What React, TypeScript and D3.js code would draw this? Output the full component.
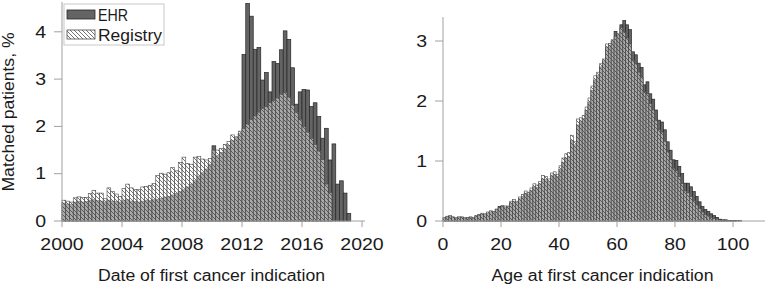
import React from "react";
import * as d3 from "d3";

// ---------- Data ----------
// Left panel: quarterly bins starting 2000.00
const yearStart = 2000;
const quarterWidth = 0.25;
const ehrByDate = [
  0.38, 0.36, 0.35, 0.40,
  0.42, 0.40, 0.41, 0.44,
  0.45, 0.43, 0.42, 0.40,
  0.44, 0.42, 0.41, 0.40,
  0.43, 0.45, 0.42, 0.41,
  0.40, 0.42, 0.44, 0.43,
  0.45, 0.46, 0.48, 0.50,
  0.52, 0.55, 0.58, 0.62,
  0.66, 0.72, 0.78, 0.85,
  0.95, 1.02, 1.10, 1.20,
  1.59, 1.38, 1.45, 1.52,
  1.60, 1.70, 1.76, 1.85,
  3.52, 4.60, 4.33, 3.63,
  3.67, 2.98, 3.14, 2.73,
  3.37, 3.33, 3.62, 4.02,
  3.84, 3.24, 2.47, 2.73,
  2.78, 2.77, 2.42, 2.50,
  2.21, 1.75, 1.96, 1.29,
  1.63, 0.78, 0.85, 0.59,
  0.16,
];
const registryByDate = [
  0.44, 0.42, 0.40, 0.49,
  0.51, 0.50, 0.50, 0.58,
  0.65, 0.59, 0.59, 0.47,
  0.70, 0.62, 0.57, 0.52,
  0.69, 0.78, 0.70, 0.67,
  0.66, 0.72, 0.73, 0.75,
  0.79, 0.96, 1.01, 0.99,
  1.02, 1.13, 1.06, 1.24,
  1.35, 1.22, 1.20, 1.35,
  1.36, 1.31, 1.29, 1.32,
  1.50, 1.50, 1.53, 1.62,
  1.68, 1.82, 1.78, 1.90,
  1.96, 2.05, 2.15, 2.22,
  2.30, 2.38, 2.42, 2.50,
  2.55, 2.60, 2.68, 2.72,
  2.62, 2.45, 2.30, 2.15,
  2.00, 1.88, 1.75, 1.62,
  1.48, 1.30, 0.78, 0.60,
];
const dateTicks = [2000, 2004, 2008, 2012, 2016, 2020];
const dateYTicks = [0, 1, 2, 3, 4];

// Right panel: 1-year age bins starting at 0
const ageStart = 0;
const ageWidth = 1;
const ehrByAge = [
  0.05, 0.07, 0.08, 0.06, 0.05, 0.06, 0.06, 0.05, 0.05, 0.06,
  0.05, 0.08, 0.10, 0.11, 0.11, 0.13, 0.15, 0.15, 0.19, 0.24,
  0.24, 0.23, 0.24, 0.30, 0.33, 0.31, 0.37, 0.41, 0.46, 0.45,
  0.51, 0.57, 0.56, 0.62, 0.70, 0.69, 0.66, 0.75, 0.77, 0.74,
  0.86, 0.98, 1.05, 1.08, 1.34, 1.27, 1.60, 1.66, 1.71, 1.84,
  1.98, 2.18, 2.35, 2.43, 2.57, 2.67, 2.90, 2.93, 3.00, 3.16,
  3.10, 3.27, 3.34, 3.27, 3.19, 2.82, 2.77, 2.63, 2.56, 2.27,
  2.32, 2.12, 2.03, 1.85, 1.68, 1.65, 1.52, 1.32, 1.18, 1.02,
  1.01, 0.91, 0.79, 0.63, 0.63, 0.57, 0.49, 0.41, 0.32, 0.24,
  0.19, 0.16, 0.12, 0.09, 0.06, 0.03, 0.02, 0.02, 0.01, 0.01,
  0.01, 0.005, 0.005,
];
const registryByAge = [
  0.06, 0.08, 0.09, 0.07, 0.05, 0.07, 0.07, 0.05, 0.06, 0.07,
  0.05, 0.09, 0.11, 0.13, 0.12, 0.15, 0.17, 0.16, 0.20, 0.22,
  0.26, 0.25, 0.25, 0.33, 0.36, 0.33, 0.40, 0.44, 0.50, 0.48,
  0.55, 0.62, 0.60, 0.66, 0.76, 0.74, 0.70, 0.80, 0.82, 0.78,
  0.92, 1.05, 1.12, 1.14, 1.43, 1.32, 1.70, 1.72, 1.76, 1.90,
  2.05, 2.25, 2.42, 2.48, 2.62, 2.70, 2.95, 2.96, 3.02, 3.08,
  3.12, 3.22, 3.15, 3.05, 2.95, 2.68, 2.62, 2.48, 2.40, 2.15,
  2.12, 1.96, 1.85, 1.68, 1.52, 1.48, 1.33, 1.15, 1.02, 0.88,
  0.84, 0.74, 0.62, 0.50, 0.47, 0.41, 0.34, 0.27, 0.21, 0.15,
  0.11, 0.09, 0.06, 0.04, 0.03, 0.015, 0.01, 0.008, 0.005, 0.004,
  0.003,
];
const ageTicks = [0, 20, 40, 60, 80, 100];
const ageYTicks = [0, 1, 2, 3];

const legendLabels = ["EHR", "Registry"];
const yLabel = "Matched patients, %";
const leftXLabel = "Date of first cancer indication";
const rightXLabel = "Age at first cancer indication";

// ---------- Styles ----------
const FONT = "'Liberation Sans', Arial, sans-serif";
const AXIS = "#a0a0a0";
const TEXT = "#1a1a1a";
const EHR_FILL = "#646464";
const EHR_STROKE = "#262626";
const REG_STROKE = "#4a4a4a";
const SX = 1.22; // horizontal stretch of the original figure's text

type PanelProps = {
  ehr: number[];
  reg: number[];
  start: number;
  bw: number;
  xDomain: [number, number];
  xRange: [number, number];
  axisEnd: number;
  yMax: number;
  yTop: number;
  xTicks: number[];
  yTicks: number[];
  xLabel: string;
  labelX: number;
  labelLen: number;
};

function Panel(p: PanelProps) {
  const y0 = 221;
  const x = d3.scaleLinear().domain(p.xDomain).range(p.xRange);
  const y = d3.scaleLinear().domain([0, p.yMax]).range([y0, p.yTop]);
  const bars = (vals: number[], fill: string, stroke: string, sw: number) =>
    vals.map((v, i) => {
      const s = p.start + i * p.bw;
      const x1 = x(s);
      const x2 = x(s + p.bw);
      return (
        <rect
          key={i}
          x={x1}
          y={y(v)}
          width={x2 - x1}
          height={y0 - y(v)}
          fill={fill}
          stroke={stroke}
          strokeWidth={sw}
        />
      );
    });
  const ax0 = p.xRange[0];
  return (
    <g>
      {bars(p.ehr, EHR_FILL, EHR_STROKE, 0.7)}
      {bars(p.reg, "url(#hatch)", REG_STROKE, 0.6)}
      {/* y axis */}
      <line x1={ax0} x2={ax0} y1={y(y.domain()[1])} y2={y0} stroke={AXIS} strokeWidth={1} />
      {p.yTicks.map((t) => (
        <g key={t}>
          <line x1={ax0 - 8} x2={ax0} y1={y(t)} y2={y(t)} stroke={AXIS} strokeWidth={1} />
          <text
            transform={`translate(${ax0 - 16},${y(t)}) scale(${SX},1)`}
            dy="0.36em"
            textAnchor="end"
            fontSize={16}
            fill={TEXT}
            fontFamily={FONT}
          >
            {t}
          </text>
        </g>
      ))}
      {/* x axis */}
      <line x1={ax0} x2={p.axisEnd} y1={y0} y2={y0} stroke={AXIS} strokeWidth={1} />
      {p.xTicks.map((t) => (
        <g key={t}>
          <line x1={x(t)} x2={x(t)} y1={y0} y2={y0 + 6} stroke={AXIS} strokeWidth={1} />
          <text
            transform={`translate(${x(t)},250) scale(${SX},1)`}
            textAnchor="middle"
            fontSize={16}
            fill={TEXT}
            fontFamily={FONT}
          >
            {t}
          </text>
        </g>
      ))}
      <text
        x={p.labelX - p.labelLen / 2}
        y={281}
        textLength={p.labelLen}
        lengthAdjust="spacingAndGlyphs"
        fontSize={16}
        fill={TEXT}
        fontFamily={FONT}
      >
        {p.xLabel}
      </text>
    </g>
  );
}

export default function App() {
  return (
    <svg width={766} height={286} style={{ position: "absolute", left: 0, top: 0, background: "#fff" }}>
      <defs>
        <pattern id="hatch" patternUnits="userSpaceOnUse" width={4} height={4}>
          <rect width={4} height={4} fill="#ffffff" fillOpacity={0.45} />
          <path d="M-1,-1 L5,5 M-1,3 L1,5 M3,-1 L5,1" stroke="#3a3a3a" strokeWidth={0.7} />
        </pattern>
      </defs>
      <rect width={766} height={286} fill="#fff" />
      <Panel
        ehr={ehrByDate}
        reg={registryByDate}
        start={yearStart}
        bw={quarterWidth}
        xDomain={[2000, 2020]}
        xRange={[62, 362]}
        axisEnd={365}
        yMax={4.63}
        yTop={2}
        xTicks={dateTicks}
        yTicks={dateYTicks}
        xLabel={leftXLabel}
        labelX={211.5}
        labelLen={227}
      />
      <Panel
        ehr={ehrByAge}
        reg={registryByAge}
        start={ageStart}
        bw={ageWidth}
        xDomain={[0, 100]}
        xRange={[443, 733]}
        axisEnd={765}
        yMax={3.4}
        yTop={17}
        xTicks={ageTicks}
        yTicks={ageYTicks}
        xLabel={rightXLabel}
        labelX={602.5}
        labelLen={222}
      />
      <text
        transform="translate(14,112) rotate(-90)"
        x={-79.5}
        textLength={159}
        lengthAdjust="spacingAndGlyphs"
        fontSize={16.5}
        fill={TEXT}
        fontFamily={FONT}
      >
        {yLabel}
      </text>
      {/* legend */}
      <g>
        <rect x={64} y={4} width={100} height={41} fill="#fff" stroke="#c8c8c8" strokeWidth={1} />
        <rect x={67} y={10} width={28} height={9} fill={EHR_FILL} stroke={EHR_STROKE} strokeWidth={0.8} />
        <text x={98} y={20.5} textLength={30} lengthAdjust="spacingAndGlyphs" fontSize={16} fill={TEXT} fontFamily={FONT}>
          {legendLabels[0]}
        </text>
        <rect x={67} y={30} width={28} height={9} fill="url(#hatch)" stroke={REG_STROKE} strokeWidth={0.8} />
        <text x={98} y={40.5} textLength={64} lengthAdjust="spacingAndGlyphs" fontSize={16} fill={TEXT} fontFamily={FONT}>
          {legendLabels[1]}
        </text>
      </g>
    </svg>
  );
}
